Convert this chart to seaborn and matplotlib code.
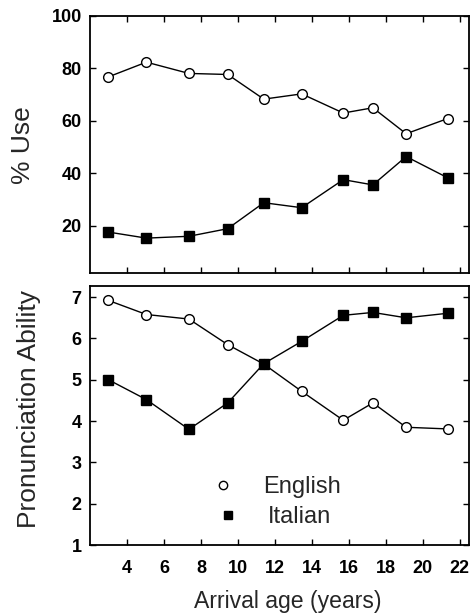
import matplotlib
matplotlib.use("Agg")
import matplotlib.pyplot as plt
import seaborn as sns
import pandas as pd
from matplotlib.lines import Line2D

# ---- data ----
arrival_age = [3.0, 5.05, 7.35, 9.45, 11.4, 13.45, 15.7, 17.3, 19.1, 21.35]
use_english = [76.8, 82.4, 78.1, 77.7, 68.3, 70.3, 63.0, 65.0, 55.1, 60.9]
use_italian = [17.6, 15.3, 16.0, 18.9, 28.8, 26.9, 37.6, 35.6, 46.4, 38.3]
pron_english = [6.92, 6.58, 6.47, 5.85, 5.38, 4.72, 4.02, 4.44, 3.85, 3.81]
pron_italian = [5.0, 4.52, 3.80, 4.44, 5.39, 5.93, 6.56, 6.63, 6.50, 6.61]
x_ticks = [4, 6, 8, 10, 12, 14, 16, 18, 20, 22]
use_ticks = [20, 40, 60, 80, 100]
pron_ticks = [1, 2, 3, 4, 5, 6, 7]
series_labels = ["English", "Italian"]

sns.set_style("ticks")
plt.rcParams['font.family'] = ['Liberation Sans', 'DejaVu Sans']

df_top = pd.DataFrame({"age": arrival_age, "English": use_english, "Italian": use_italian})
df_bot = pd.DataFrame({"age": arrival_age, "English": pron_english, "Italian": pron_italian})

fig = plt.figure(figsize=(4.71, 6.15), dpi=100)
ax1 = fig.add_axes([90/471, 342/615, 379/471, 257/615])
ax2 = fig.add_axes([90/471, 70/615, 379/471, 259/615])

eng_kw = dict(color="black", linewidth=1.0, marker="o", markersize=7,
              markerfacecolor="white", markeredgecolor="black", markeredgewidth=1.0)
ita_kw = dict(color="black", linewidth=1.0, marker="s", markersize=7,
              markerfacecolor="black", markeredgecolor="black", markeredgewidth=1.0)

for ax, df in ((ax1, df_top), (ax2, df_bot)):
    sns.lineplot(data=df, x="age", y="English", ax=ax, **eng_kw)
    sns.lineplot(data=df, x="age", y="Italian", ax=ax, **ita_kw)
    ax.set_xlim(2, 22.5)
    ax.set_xticks(x_ticks)
    for s in ax.spines.values():
        s.set_visible(True)
        s.set_linewidth(1.3)
        s.set_color("black")
    ax.tick_params(direction="in", length=4, width=1.0, colors="black",
                   left=True, right=True)

ax1.set_ylim(2, 100)
ax1.set_yticks(use_ticks)
ax1.tick_params(axis="x", top=True, bottom=True, labelbottom=False)
ax1.tick_params(axis="y", labelsize=13, pad=6)
ax1.set_xlabel("")
ax1.set_ylabel("% Use", fontsize=19)
ax1.yaxis.label.set_va("center")
ax1.yaxis.set_label_coords(-0.177, 0.498)

ax2.set_ylim(1, 7.27)
ax2.set_yticks(pron_ticks)
ax2.tick_params(axis="x", top=False, bottom=True, labelsize=13, pad=11)
ax2.tick_params(axis="y", labelsize=13, pad=6)
ax2.set_ylabel("Pronunciation Ability", fontsize=19)
ax2.yaxis.label.set_va("center")
ax2.yaxis.set_label_coords(-0.161, 0.525)
ax2.set_xlabel("Arrival age (years)", fontsize=16.6)
ax2.xaxis.label.set_va("center")
ax2.xaxis.set_label_coords(0.521, -0.22)

for ax in (ax1, ax2):
    for lab in ax.get_yticklabels() + ax.get_xticklabels():
        lab.set_fontweight("bold")

h_eng = Line2D([], [], linestyle="none", marker="o", markersize=6,
               markerfacecolor="white", markeredgecolor="black", markeredgewidth=1.0)
h_ita = Line2D([], [], linestyle="none", marker="s", markersize=6,
               markerfacecolor="black", markeredgecolor="black")
leg_kw = dict(loc="center left", frameon=False, fontsize=17, handletextpad=1.19,
              handlelength=1.0, borderpad=0, borderaxespad=0)
leg1 = ax2.legend([h_eng], [series_labels[0]], bbox_to_anchor=(0.320, 0.224), **leg_kw)
ax2.add_artist(leg1)
ax2.legend([h_ita], [series_labels[1]], bbox_to_anchor=(0.333, 0.108), **leg_kw)

fig.savefig("out.png", dpi=100)
